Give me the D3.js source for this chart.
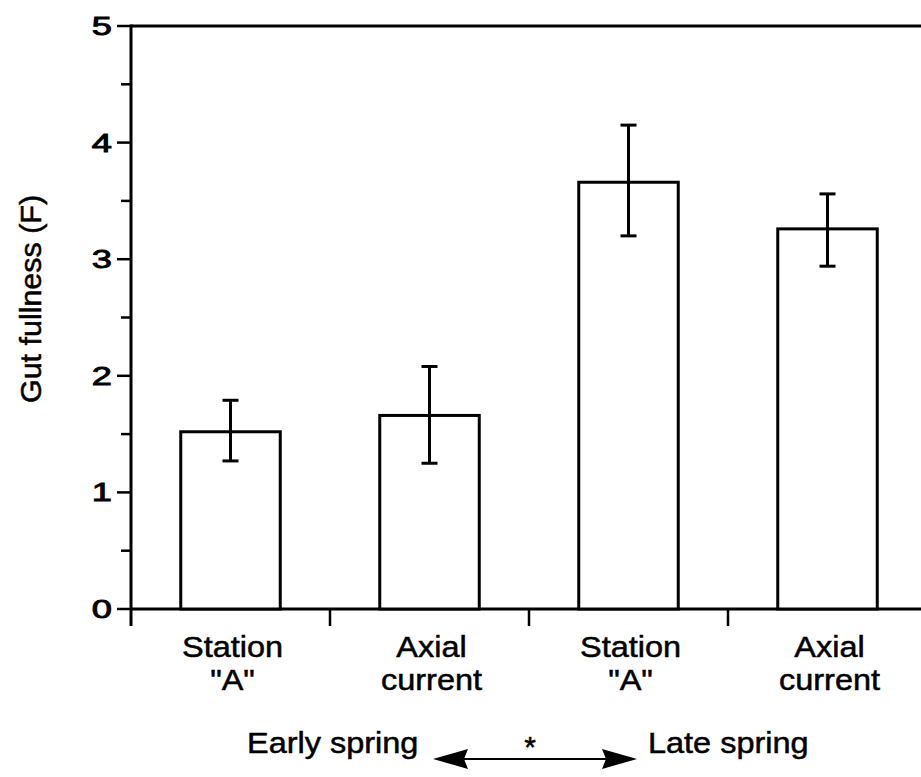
<!DOCTYPE html>
<html>
<head>
<meta charset="utf-8">
<script src="https://cdn.jsdelivr.net/npm/d3@7"></script>
<style>
  html, body { margin: 0; padding: 0; background: #fff; }
  svg { display: block; }
  text { font-family: "Liberation Sans", Arial, Helvetica, sans-serif; fill: #000; stroke: #000; stroke-width: 0.5px; }
  text.ylab { stroke-width: 0.9px; }
</style>
</head>
<body>
<svg id="chart" width="921" height="777"></svg>
<script>
// Gut fullness by site and season (mean with error range)
const groups = ["early-station", "early-axial", "late-station", "late-axial"];
const labelTop = ["Station", "Axial", "Station", "Axial"];
const labelBottom = ['"A"', "current", '"A"', "current"];
const means = [1.52, 1.66, 3.66, 3.26];
const upper = [1.79, 2.08, 4.15, 3.56];
const lower = [1.27, 1.25, 3.20, 2.94];
const majorTicks = [0, 1, 2, 3, 4, 5];
const minorTicks = [0.5, 1.5, 2.5, 3.5, 4.5];

const svg = d3.select("#chart");
const W = 921;
const x0 = 131, yTop = 26, yBase = 609;

const y = d3.scaleLinear().domain([0, 5]).range([yBase, yTop]);
const x = d3.scaleBand().domain(groups).range([x0, 927])
  .paddingInner(0.5).paddingOuter(0.25);

const ink = "#000";
const sw = 3;

// frame: top line, baseline and left axis
svg.append("line").attr("x1", x0).attr("x2", W).attr("y1", y(5)).attr("y2", y(5))
  .attr("stroke", ink).attr("stroke-width", sw);
svg.append("line").attr("x1", x0).attr("x2", W).attr("y1", y(0)).attr("y2", y(0))
  .attr("stroke", ink).attr("stroke-width", sw);
svg.append("line").attr("x1", x0).attr("x2", x0).attr("y1", y(5) - 1.5).attr("y2", y(0) + 17)
  .attr("stroke", ink).attr("stroke-width", sw);

// y ticks
svg.selectAll("line.major").data(majorTicks).join("line").attr("class", "major")
  .attr("x1", x0 - 14).attr("x2", x0).attr("y1", d => y(d)).attr("y2", d => y(d))
  .attr("stroke", ink).attr("stroke-width", 2.5);
svg.selectAll("line.minor").data(minorTicks).join("line").attr("class", "minor")
  .attr("x1", x0 - 10).attr("x2", x0).attr("y1", d => y(d)).attr("y2", d => y(d))
  .attr("stroke", ink).attr("stroke-width", 2.5);
svg.selectAll("text.ylab").data(majorTicks).join("text").attr("class", "ylab")
  .attr("transform", d => `translate(112,${y(d) + 9}) scale(1.45,1)`)
  .attr("text-anchor", "end").attr("font-size", 25).text(d => d);

// x boundary ticks between groups
const step = x.step();
const boundaries = d3.range(1, groups.length).map(i => x(groups[i]) - step * 0.25);
svg.selectAll("line.xb").data(boundaries).join("line").attr("class", "xb")
  .attr("x1", d => d).attr("x2", d => d).attr("y1", y(0)).attr("y2", y(0) + 17)
  .attr("stroke", ink).attr("stroke-width", 2.5);

// bars
svg.selectAll("rect.bar").data(groups).join("rect").attr("class", "bar")
  .attr("x", d => x(d)).attr("width", x.bandwidth())
  .attr("y", (d, i) => y(means[i])).attr("height", (d, i) => y(0) - y(means[i]))
  .attr("fill", "#fff").attr("stroke", ink).attr("stroke-width", sw);

// error bars
const cap = 8;
const eb = svg.selectAll("g.err").data(groups).join("g").attr("class", "err");
eb.append("line")
  .attr("x1", d => x(d) + x.bandwidth() / 2).attr("x2", d => x(d) + x.bandwidth() / 2)
  .attr("y1", (d, i) => y(upper[i])).attr("y2", (d, i) => y(lower[i]))
  .attr("stroke", ink).attr("stroke-width", sw);
eb.append("line")
  .attr("x1", d => x(d) + x.bandwidth() / 2 - cap).attr("x2", d => x(d) + x.bandwidth() / 2 + cap)
  .attr("y1", (d, i) => y(upper[i])).attr("y2", (d, i) => y(upper[i]))
  .attr("stroke", ink).attr("stroke-width", sw);
eb.append("line")
  .attr("x1", d => x(d) + x.bandwidth() / 2 - cap).attr("x2", d => x(d) + x.bandwidth() / 2 + cap)
  .attr("y1", (d, i) => y(lower[i])).attr("y2", (d, i) => y(lower[i]))
  .attr("stroke", ink).attr("stroke-width", sw);

// category labels
const cx = d => x(d) + x.bandwidth() / 2 + 2;
svg.selectAll("text.cat1").data(groups).join("text").attr("class", "cat1")
  .attr("transform", d => `translate(${cx(d)},657) scale(1.12,1)`)
  .attr("text-anchor", "middle").attr("font-size", 29)
  .text((d, i) => labelTop[i]);
svg.selectAll("text.cat2").data(groups).join("text").attr("class", "cat2")
  .attr("transform", d => `translate(${cx(d)},690) scale(1.12,1)`)
  .attr("text-anchor", "middle").attr("font-size", 29)
  .text((d, i) => labelBottom[i]);

// y axis title
svg.append("text")
  .attr("transform", "translate(41,299) rotate(-90) scale(1.05,1)")
  .attr("text-anchor", "middle").attr("font-size", 29)
  .text("Gut fullness (F)");

// season comparison arrow
const ay = 759;
svg.append("text").attr("transform", `translate(247,753) scale(1.12,1)`)
  .attr("font-size", 29).text("Early spring");
svg.append("text").attr("transform", `translate(648,753) scale(1.12,1)`)
  .attr("font-size", 29).text("Late spring");
svg.append("line").attr("x1", 460).attr("x2", 610).attr("y1", ay).attr("y2", ay)
  .attr("stroke", ink).attr("stroke-width", 2);
svg.append("path")
  .attr("d", `M433,${ay} L468,${ay - 10} L464,${ay} L468,${ay + 10} Z`).attr("fill", ink);
svg.append("path")
  .attr("d", `M637,${ay} L602,${ay - 10} L606,${ay} L602,${ay + 10} Z`).attr("fill", ink);
svg.append("text").attr("x", 530).attr("y", 757).attr("text-anchor", "middle")
  .attr("font-size", 30).text("*");
</script>
</body>
</html>
